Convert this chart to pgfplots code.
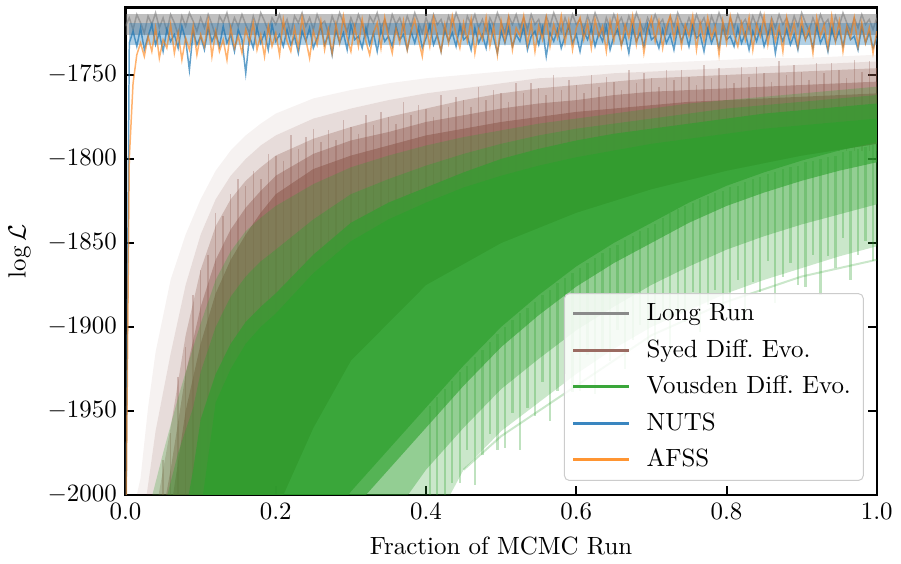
\documentclass[border=0pt]{standalone}
\usepackage{pgfplots}
\pgfplotsset{compat=1.18}
\usepackage{pgfplotstable}
\definecolor{tabgray}{HTML}{7F7F7F}
\definecolor{tabbrown}{HTML}{8C564B}
\definecolor{tabgreen}{HTML}{2CA02C}
\definecolor{tabblue}{HTML}{1F77B4}
\definecolor{taborange}{HTML}{FF7F0E}
\definecolor{leggray}{HTML}{8A8A8A}
\definecolor{legbrown}{HTML}{9B6B62}
\definecolor{leggreen}{HTML}{3AA63A}
\definecolor{legblue}{HTML}{3A86C0}
\definecolor{legorange}{HTML}{FF9532}

\pgfplotstableread[row sep=\\]{
g b o\\
-1721 -2050 -2050\\ -1716 -1731 -1800\\ -1723 -1724 -1755\\ -1714 -1733 -1738\\ -1719 -1722 -1731\\
-1725 -1735 -1739\\ -1715 -1727 -1727\\ -1720 -1720 -1736\\ -1713 -1732 -1722\\ -1722 -1725 -1740\\
-1716 -1736 -1729\\ -1724 -1723 -1734\\ -1714 -1730 -1720\\ -1719 -1726 -1737\\ -1726 -1734 -1725\\
-1715 -1721 -1741\\ -1721 -1729 -1728\\ -1713 -1747 -1735\\ -1718 -1724 -1721\\ -1724 -1732 -1738\\
-1716 -1727 -1726\\ -1722 -1735 -1733\\ -1714 -1722 -1718\\ -1720 -1730 -1739\\ -1727 -1725 -1724\\
-1715 -1733 -1736\\ -1719 -1721 -1729\\ -1713 -1731 -1741\\ -1723 -1726 -1722\\ -1716 -1736 -1734\\
-1721 -1723 -1727\\ -1714 -1729 -1737\\ -1720 -1749 -1723\\ -1725 -1727 -1731\\ -1715 -1734 -1719\\
-1722 -1722 -1735\\ -1713 -1731 -1726\\ -1718 -1725 -1739\\ -1724 -1735 -1721\\ -1716 -1720 -1733\\
-1720 -1730 -1725\\ -1714 -1726 -1738\\ -1722 -1733 -1717\\ -1717 -1723 -1730\\ -1726 -1732 -1736\\
-1715 -1727 -1722\\ -1719 -1737 -1734\\ -1713 -1724 -1716\\ -1721 -1730 -1729\\ -1716 -1722 -1740\\
-1723 -1734 -1724\\ -1714 -1728 -1732\\ -1720 -1721 -1718\\ -1718 -1732 -1735\\ -1725 -1726 -1723\\
-1715 -1738 -1737\\ -1721 -1723 -1720\\ -1713 -1731 -1731\\ -1719 -1725 -1715\\ -1724 -1735 -1728\\
-1716 -1720 -1736\\ -1722 -1729 -1721\\ -1714 -1727 -1733\\ -1720 -1734 -1717\\ -1727 -1722 -1730\\
-1715 -1732 -1738\\ -1719 -1725 -1725\\ -1713 -1736 -1719\\ -1722 -1723 -1734\\ -1717 -1730 -1716\\
-1724 -1727 -1728\\ -1714 -1733 -1737\\ -1720 -1721 -1722\\ -1716 -1729 -1731\\ -1723 -1726 -1718\\
-1715 -1735 -1735\\ -1721 -1724 -1724\\ -1713 -1731 -1717\\ -1719 -1722 -1729\\ -1725 -1734 -1739\\
-1716 -1728 -1721\\ -1722 -1720 -1733\\ -1714 -1732 -1716\\ -1720 -1726 -1727\\ -1717 -1736 -1736\\
-1724 -1723 -1720\\ -1715 -1730 -1731\\ -1721 -1725 -1715\\ -1713 -1733 -1726\\ -1719 -1721 -1734\\
-1726 -1729 -1719\\ -1715 -1727 -1730\\ -1720 -1735 -1717\\ -1714 -1722 -1737\\ -1722 -1731 -1723\\
-1717 -1726 -1729\\ -1724 -1734 -1716\\ -1716 -1720 -1733\\ -1721 -1728 -1721\\ -1713 -1737 -1738\\
-1719 -1724 -1718\\ -1725 -1731 -1730\\ -1715 -1722 -1716\\ -1720 -1733 -1735\\ -1714 -1726 -1722\\
-1722 -1730 -1727\\ -1716 -1721 -1715\\ -1723 -1735 -1732\\ -1714 -1727 -1719\\ -1720 -1724 -1736\\
-1717 -1732 -1721\\ -1725 -1722 -1729\\ -1715 -1739 -1716\\ -1721 -1725 -1733\\ -1713 -1730 -1720\\
-1719 -1723 -1728\\ -1724 -1734 -1715\\ -1716 -1727 -1731\\ -1722 -1721 -1718\\ -1714 -1731 -1735\\
-1720 -1726 -1722\\ -1717 -1736 -1716\\ -1723 -1724 -1729\\ -1715 -1729 -1719\\ -1721 -1722 -1734\\
-1713 -1733 -1717\\ -1719 -1725 -1727\\ -1726 -1730 -1721\\ -1716 -1721 -1736\\ -1722 -1735 -1718\\
-1714 -1727 -1730\\ -1720 -1723 -1716\\ -1716 -1732 -1733\\ -1723 -1726 -1720\\ -1715 -1737 -1728\\
-1721 -1722 -1715\\ -1713 -1730 -1732\\ -1719 -1725 -1719\\ -1724 -1733 -1737\\ -1716 -1720 -1723\\
-1721 -1729 -1716\\ -1714 -1727 -1730\\ -1720 -1734 -1718\\ -1717 -1723 -1734\\ -1725 -1731 -1721\\
-1715 -1726 -1715\\ -1721 -1735 -1729\\ -1713 -1722 -1717\\ -1719 -1730 -1733\\ -1723 -1724 -1720\\
-1716 -1733 -1727\\ -1722 -1721 -1715\\ -1714 -1728 -1735\\ -1720 -1726 -1719\\ -1716 -1736 -1730\\
-1724 -1723 -1716\\ -1715 -1731 -1728\\ -1721 -1725 -1721\\ -1713 -1734 -1738\\ -1719 -1721 -1718\\
-1725 -1729 -1731\\ -1716 -1727 -1715\\ -1722 -1733 -1726\\ -1714 -1722 -1733\\ -1720 -1731 -1719\\
-1717 -1725 -1729\\ -1723 -1735 -1716\\ -1715 -1724 -1735\\ -1721 -1730 -1720\\ -1713 -1722 -1727\\
-1719 -1733 -1715\\ -1726 -1726 -1732\\ -1716 -1721 -1718\\ -1722 -1737 -1730\\ -1714 -1724 -1721\\
-1720 -1730 -1736\\ -1716 -1723 -1716\\ -1723 -1732 -1728\\ -1715 -1726 -1719\\ -1721 -1735 -1733\\
-1713 -1722 -1717\\ -1719 -1729 -1729\\ -1724 -1725 -1722\\ -1716 -1734 -1737\\ -1722 -1721 -1716\\
-1714 -1731 -1727\\ -1720 -1726 -1720\\ -1717 -1736 -1734\\ -1725 -1723 -1715\\ -1715 -1730 -1730\\
-1721 -1724 -1718\\ -1713 -1733 -1736\\ -1719 -1722 -1721\\ -1724 -1729 -1728\\ -1716 -1727 -1716\\
-1722 -1735 -1733\\ -1714 -1721 -1719\\ -1720 -1731 -1731\\ -1717 -1725 -1722\\ -1723 -1734 -1737\\
-1716 -1728 -1724\\
}\toptraces

% brown chain streaks: x, top, bottom
\pgfplotstableread[row sep=\\]{
x top bot\\
0.05 -1979 -2010\\ 0.06 -1963 -2010\\ 0.07 -1930 -2010\\ 0.08 -1912 -2010\\ 0.09 -1881 -2010\\
0.10 -1866 -2010\\ 0.11 -1857 -2010\\ 0.12 -1832 -2010\\ 0.13 -1834 -2010\\ 0.14 -1821 -2010\\
0.15 -1812 -2010\\ 0.16 -1816 -2010\\ 0.17 -1807 -2010\\ 0.18 -1812 -2010\\ 0.19 -1797 -2010\\
0.20 -1798 -1900\\ 0.21 -1801 -1900\\ 0.22 -1786 -1900\\ 0.23 -1794 -1900\\ 0.24 -1787 -1900\\
0.25 -1782 -1900\\ 0.26 -1790 -1900\\ 0.27 -1783 -1900\\ 0.28 -1789 -1900\\ 0.29 -1777 -1900\\
0.30 -1781 -1850\\ 0.31 -1785 -1850\\ 0.32 -1774 -1850\\ 0.33 -1780 -1850\\ 0.34 -1772 -1850\\
0.35 -1775 -1850\\ 0.36 -1779 -1850\\ 0.37 -1766 -1850\\ 0.38 -1774 -1850\\ 0.39 -1768 -1850\\
0.40 -1770 -1850\\ 0.41 -1775 -1850\\ 0.42 -1762 -1850\\ 0.43 -1769 -1850\\ 0.44 -1763 -1850\\
0.45 -1765 -1850\\ 0.46 -1769 -1850\\ 0.47 -1757 -1850\\ 0.48 -1765 -1850\\ 0.49 -1759 -1850\\
0.50 -1761 -1815\\ 0.51 -1766 -1815\\ 0.52 -1755 -1815\\ 0.53 -1761 -1815\\ 0.54 -1755 -1815\\
0.55 -1758 -1815\\ 0.56 -1762 -1815\\ 0.57 -1750 -1815\\ 0.58 -1759 -1815\\ 0.59 -1753 -1815\\
0.60 -1756 -1815\\ 0.61 -1761 -1815\\ 0.62 -1750 -1815\\ 0.63 -1757 -1815\\ 0.64 -1751 -1815\\
0.65 -1754 -1815\\ 0.66 -1759 -1815\\ 0.67 -1747 -1815\\ 0.68 -1755 -1815\\ 0.69 -1749 -1815\\
0.70 -1752 -1795\\ 0.71 -1757 -1795\\ 0.72 -1747 -1795\\ 0.73 -1753 -1795\\ 0.74 -1747 -1795\\
0.75 -1751 -1795\\ 0.76 -1756 -1795\\ 0.77 -1744 -1795\\ 0.78 -1752 -1795\\ 0.79 -1746 -1795\\
0.80 -1750 -1795\\ 0.81 -1755 -1795\\ 0.82 -1745 -1795\\ 0.83 -1751 -1795\\ 0.84 -1745 -1795\\
0.85 -1749 -1795\\ 0.86 -1754 -1795\\ 0.87 -1742 -1795\\ 0.88 -1750 -1795\\ 0.89 -1744 -1795\\
0.90 -1748 -1795\\ 0.91 -1753 -1795\\ 0.92 -1743 -1795\\ 0.93 -1749 -1795\\ 0.94 -1743 -1795\\
0.95 -1747 -1795\\ 0.96 -1752 -1795\\ 0.97 -1741 -1795\\ 0.98 -1748 -1795\\ 0.99 -1742 -1795\\
1.00 -1746 -1795\\
}\brownstreaks

% green chain streaks (lower edge): x, top, bottom
\pgfplotstableread[row sep=\\]{
x top bot\\
0.405 -1947 -2010\\ 0.415 -1942 -2010\\ 0.425 -1937 -2010\\ 0.435 -1932 -1993\\ 0.445 -1927 -1993\\
0.455 -1923 -1973\\ 0.465 -1918 -1994\\ 0.475 -1914 -1976\\ 0.485 -1909 -1964\\ 0.495 -1904 -1973\\
0.505 -1900 -1972\\ 0.515 -1896 -1951\\ 0.525 -1892 -1973\\ 0.535 -1889 -1948\\ 0.545 -1885 -1953\\
0.555 -1881 -1933\\ 0.565 -1878 -1956\\ 0.575 -1874 -1938\\ 0.585 -1871 -1928\\ 0.595 -1868 -1939\\
0.605 -1865 -1938\\ 0.615 -1862 -1917\\ 0.625 -1859 -1940\\ 0.635 -1856 -1915\\ 0.645 -1853 -1920\\
0.655 -1851 -1902\\ 0.665 -1848 -1925\\ 0.675 -1846 -1908\\ 0.685 -1843 -1899\\ 0.695 -1841 -1910\\
0.705 -1839 -1911\\ 0.715 -1835 -1891\\ 0.725 -1832 -1915\\ 0.735 -1830 -1891\\ 0.745 -1828 -1897\\
0.755 -1826 -1879\\ 0.765 -1824 -1903\\ 0.775 -1822 -1887\\ 0.785 -1820 -1878\\ 0.795 -1819 -1890\\
0.805 -1817 -1891\\ 0.815 -1816 -1872\\ 0.825 -1814 -1896\\ 0.835 -1812 -1873\\ 0.845 -1811 -1879\\
0.855 -1809 -1861\\ 0.865 -1808 -1886\\ 0.875 -1806 -1870\\ 0.885 -1805 -1862\\ 0.895 -1804 -1875\\
0.905 -1802 -1876\\ 0.915 -1801 -1857\\ 0.925 -1800 -1881\\ 0.935 -1799 -1858\\ 0.945 -1798 -1865\\
0.955 -1796 -1847\\ 0.965 -1795 -1872\\ 0.975 -1794 -1857\\ 0.985 -1793 -1849\\ 0.995 -1792 -1861\\
}\greenstreaks

\begin{document}
\begin{tikzpicture}
\begin{axis}[
  scale only axis, width=301.6pt, height=195.6pt,
  xmin=0, xmax=1, ymin=-2000, ymax=-1710,
  xtick={0,0.2,0.4,0.6,0.8,1},
  ytick={-2000,-1950,-1900,-1850,-1800,-1750},
  tick align=inside, xtick pos=both, ytick pos=both,
  major tick length=3.4pt,
  every tick/.style={black, line width=0.8pt},
  axis line style={line width=1pt},
  xticklabel style={/pgf/number format/.cd, fixed, fixed zerofill, precision=1},
  yticklabel style={/pgf/number format/1000 sep={}},
  xlabel={Fraction of MCMC Run},
  ylabel={$\log\mathcal{L}$},
  legend style={at={(1,0)}, anchor=south east, xshift=-5.2pt, yshift=5.6pt,
    draw=black!20, rounded corners=2pt, fill=white, fill opacity=0.85, text opacity=1,
    cells={anchor=west}, row sep=2.1pt, column sep=4.4pt},
  legend image code/.code={\draw[#1] (0pt,0pt) -- (22.4pt,0pt);},
]
% ---- Syed Diff. Evo. (brown), layered density ----
\addplot[draw=none, fill=tabbrown, fill opacity=0.08, forget plot] coordinates {
(0.01,-2010) (0.02,-1990) (0.03,-1948) (0.04,-1915) (0.06,-1872) (0.08,-1845) (0.10,-1824) (0.12,-1807) (0.14,-1795) (0.16,-1786) (0.18,-1779) (0.20,-1773) (0.25,-1764) (0.30,-1759) (0.35,-1755) (0.40,-1752) (0.45,-1750) (0.50,-1748) (0.55,-1746) (0.60,-1745) (0.65,-1744) (0.70,-1743) (0.75,-1742) (0.80,-1741) (0.85,-1740) (0.90,-1740) (0.95,-1739) (1.00,-1738)
(1.00,-1791) (0.90,-1798) (0.80,-1807) (0.70,-1818) (0.60,-1832) (0.50,-1850) (0.40,-1875) (0.30,-1920) (0.25,-1960) (0.20,-2010)} -- cycle;
\addplot[draw=none, fill=tabbrown, fill opacity=0.14, forget plot] coordinates {
(0.025,-2010) (0.04,-1962) (0.06,-1916) (0.08,-1875) (0.10,-1845) (0.12,-1824) (0.14,-1810) (0.16,-1800) (0.18,-1792) (0.20,-1786) (0.25,-1776) (0.30,-1770) (0.35,-1765) (0.40,-1761) (0.45,-1758) (0.50,-1755) (0.55,-1752) (0.60,-1751) (0.65,-1749) (0.70,-1748) (0.75,-1747) (0.80,-1746) (0.85,-1745) (0.90,-1744) (0.95,-1743) (1.00,-1742)
(1.00,-1791) (0.90,-1798) (0.80,-1807) (0.70,-1818) (0.60,-1832) (0.50,-1850) (0.40,-1875) (0.30,-1920) (0.25,-1960) (0.20,-2010)} -- cycle;
\addplot[draw=none, fill=tabbrown, fill opacity=0.28, forget plot] coordinates {
(0.04,-2010) (0.06,-1960) (0.08,-1905) (0.10,-1866) (0.12,-1840) (0.14,-1824) (0.16,-1813) (0.18,-1805) (0.20,-1798) (0.25,-1788) (0.30,-1781) (0.35,-1775) (0.40,-1770) (0.45,-1765) (0.50,-1761) (0.55,-1758) (0.60,-1756) (0.65,-1754) (0.70,-1752) (0.75,-1751) (0.80,-1750) (0.85,-1749) (0.90,-1748) (0.95,-1747) (1.00,-1746)
(1.00,-1791) (0.90,-1798) (0.80,-1807) (0.70,-1818) (0.60,-1832) (0.50,-1850) (0.40,-1875) (0.30,-1920) (0.25,-1960) (0.20,-2010)} -- cycle;
\addplot[draw=none, fill=tabbrown, fill opacity=0.4, forget plot] coordinates {
(0.05,-2010) (0.06,-1985) (0.08,-1928) (0.10,-1888) (0.12,-1860) (0.14,-1842) (0.16,-1829) (0.18,-1819) (0.20,-1810) (0.25,-1797) (0.30,-1789) (0.35,-1784) (0.40,-1778) (0.45,-1774) (0.50,-1770) (0.55,-1767) (0.60,-1765) (0.65,-1762) (0.70,-1760) (0.75,-1759) (0.80,-1758) (0.85,-1757) (0.90,-1756) (0.95,-1755) (1.00,-1754)
(1.00,-1791) (0.90,-1798) (0.80,-1807) (0.70,-1818) (0.60,-1832) (0.50,-1850) (0.40,-1875) (0.30,-1920) (0.25,-1960) (0.20,-2010)} -- cycle;
\addplot[draw=none, fill=tabbrown, fill opacity=0.55, forget plot] coordinates {
(0.06,-2010) (0.08,-1950) (0.10,-1910) (0.12,-1880) (0.14,-1860) (0.16,-1845) (0.18,-1832) (0.20,-1821) (0.25,-1806) (0.30,-1798) (0.35,-1792) (0.40,-1786) (0.45,-1782) (0.50,-1778) (0.55,-1775) (0.60,-1772) (0.65,-1770) (0.70,-1768) (0.75,-1766) (0.80,-1765) (0.85,-1764) (0.90,-1763) (0.95,-1762) (1.00,-1761)
(1.00,-1791) (0.90,-1798) (0.80,-1807) (0.70,-1818) (0.60,-1832) (0.50,-1850) (0.40,-1875) (0.30,-1920) (0.25,-1960) (0.20,-2010)} -- cycle;
% brown chain streaks
\addplot[draw=none, mark=none, forget plot,
  error bars/.cd, y dir=minus, y explicit,
  error mark=none, error bar style={draw=tabbrown, draw opacity=0.3, line width=0.6pt}]
  table[x=x, y=top, y error minus expr=\thisrow{top}-\thisrow{bot}]{\brownstreaks};
% ---- Vousden Diff. Evo. (green), layered density ----
\addplot[draw=none, fill=tabgreen, fill opacity=0.25, forget plot] coordinates {
(0.03,-2010) (0.05,-1975) (0.07,-1942) (0.09,-1912) (0.10,-1898) (0.12,-1872) (0.14,-1855) (0.16,-1843) (0.18,-1835) (0.20,-1828) (0.25,-1815) (0.30,-1805) (0.35,-1798) (0.40,-1792) (0.45,-1787) (0.50,-1783) (0.55,-1779) (0.60,-1776) (0.65,-1773) (0.70,-1770) (0.75,-1767) (0.80,-1765) (0.85,-1763) (0.90,-1761) (0.95,-1759) (1.00,-1757)
(1.00,-1852) (0.95,-1858) (0.90,-1865) (0.85,-1872) (0.80,-1880) (0.75,-1890) (0.70,-1900) (0.65,-1913) (0.60,-1928) (0.55,-1945) (0.50,-1962) (0.45,-1985) (0.42,-2010)} -- cycle;
\addplot[draw=none, fill=tabgreen, fill opacity=0.35, forget plot] coordinates {
(0.05,-2010) (0.07,-1975) (0.09,-1948) (0.10,-1927) (0.12,-1900) (0.14,-1882) (0.16,-1870) (0.18,-1861) (0.20,-1854) (0.25,-1836) (0.30,-1821) (0.35,-1812) (0.40,-1804) (0.45,-1797) (0.50,-1791) (0.55,-1786) (0.60,-1782) (0.65,-1779) (0.70,-1776) (0.75,-1773) (0.80,-1770) (0.85,-1768) (0.90,-1766) (0.95,-1764) (1.00,-1762)
(1.00,-1827) (0.95,-1833) (0.90,-1839) (0.85,-1846) (0.80,-1854) (0.75,-1864) (0.70,-1875) (0.65,-1888) (0.60,-1902) (0.55,-1919) (0.50,-1937) (0.45,-1960) (0.40,-1985) (0.36,-2010)} -- cycle;
\addplot[draw=none, fill=tabgreen, fill opacity=0.6, forget plot] coordinates {
(0.08,-2010) (0.09,-1985) (0.10,-1955) (0.12,-1928) (0.14,-1910) (0.16,-1897) (0.18,-1888) (0.20,-1880) (0.25,-1857) (0.30,-1838) (0.35,-1826) (0.40,-1817) (0.45,-1808) (0.50,-1800) (0.55,-1794) (0.60,-1789) (0.65,-1785) (0.70,-1782) (0.75,-1779) (0.80,-1776) (0.85,-1773) (0.90,-1771) (0.95,-1769) (1.00,-1767)
(1.00,-1802) (0.95,-1807) (0.90,-1813) (0.85,-1820) (0.80,-1828) (0.75,-1838) (0.70,-1850) (0.65,-1862) (0.60,-1876) (0.55,-1893) (0.50,-1912) (0.45,-1935) (0.40,-1960) (0.35,-1985) (0.30,-2010)} -- cycle;
\addplot[draw=none, fill=tabgreen, fill opacity=0.65, forget plot] coordinates {
(0.10,-2010) (0.12,-1945) (0.14,-1925) (0.16,-1910) (0.18,-1900) (0.20,-1892) (0.25,-1868) (0.30,-1849) (0.35,-1836) (0.40,-1826) (0.45,-1817) (0.50,-1810) (0.55,-1804) (0.60,-1799) (0.65,-1795) (0.70,-1791) (0.75,-1788) (0.80,-1785) (0.85,-1782) (0.90,-1780) (0.95,-1778) (1.00,-1776)
(1.00,-1790) (0.95,-1795) (0.90,-1801) (0.85,-1808) (0.80,-1816) (0.75,-1826) (0.70,-1838) (0.65,-1850) (0.60,-1864) (0.55,-1881) (0.50,-1900) (0.45,-1923) (0.40,-1948) (0.35,-1973) (0.30,-1998) (0.28,-2010)} -- cycle;
% green chain streaks
\addplot[draw=none, mark=none, forget plot,
  error bars/.cd, y dir=minus, y explicit,
  error mark=none, error bar style={draw=tabgreen, draw opacity=0.3, line width=0.9pt}]
  table[x=x, y=top, y error minus expr=\thisrow{top}-\thisrow{bot}]{\greenstreaks};
\addplot[tabgreen, opacity=0.25, line width=0.8pt, forget plot] coordinates {
(0.45,-1985) (0.50,-1965) (0.60,-1935) (0.70,-1905) (0.80,-1885) (0.90,-1870) (1.00,-1860)};
% ---- Long Run, NUTS, AFSS: dense bands and traces ----
\addplot[draw=none, fill=tabgray, fill opacity=0.5, forget plot] coordinates {
(0,-1714) (1,-1714) (1,-1726) (0,-1726)} -- cycle;
\addplot[tabgray, opacity=0.6, line width=0.6pt, forget plot] table[x expr=\coordindex*0.005, y=g]{\toptraces};
\addplot[draw=none, fill=tabblue, fill opacity=0.35, forget plot] coordinates {
(0.004,-1719) (1,-1719) (1,-1732) (0.004,-1732)} -- cycle;
\addplot[tabblue, opacity=0.7, line width=0.6pt, forget plot] table[x expr=\coordindex*0.005, y=b]{\toptraces};
\addplot[taborange, opacity=0.6, line width=0.6pt, forget plot] table[x expr=\coordindex*0.005, y=o]{\toptraces};
% ---- legend ----
\addlegendimage{leggray, line width=1.2pt}
\addlegendentry{Long Run}
\addlegendimage{legbrown, line width=1.2pt}
\addlegendentry{Syed Diff.\ Evo.}
\addlegendimage{leggreen, line width=1.2pt}
\addlegendentry{Vousden Diff.\ Evo.}
\addlegendimage{legblue, line width=1.2pt}
\addlegendentry{NUTS}
\addlegendimage{legorange, line width=1.2pt}
\addlegendentry{AFSS}
\end{axis}
\path (current axis.north) ++(0,3.1pt);
\end{tikzpicture}
\end{document}
